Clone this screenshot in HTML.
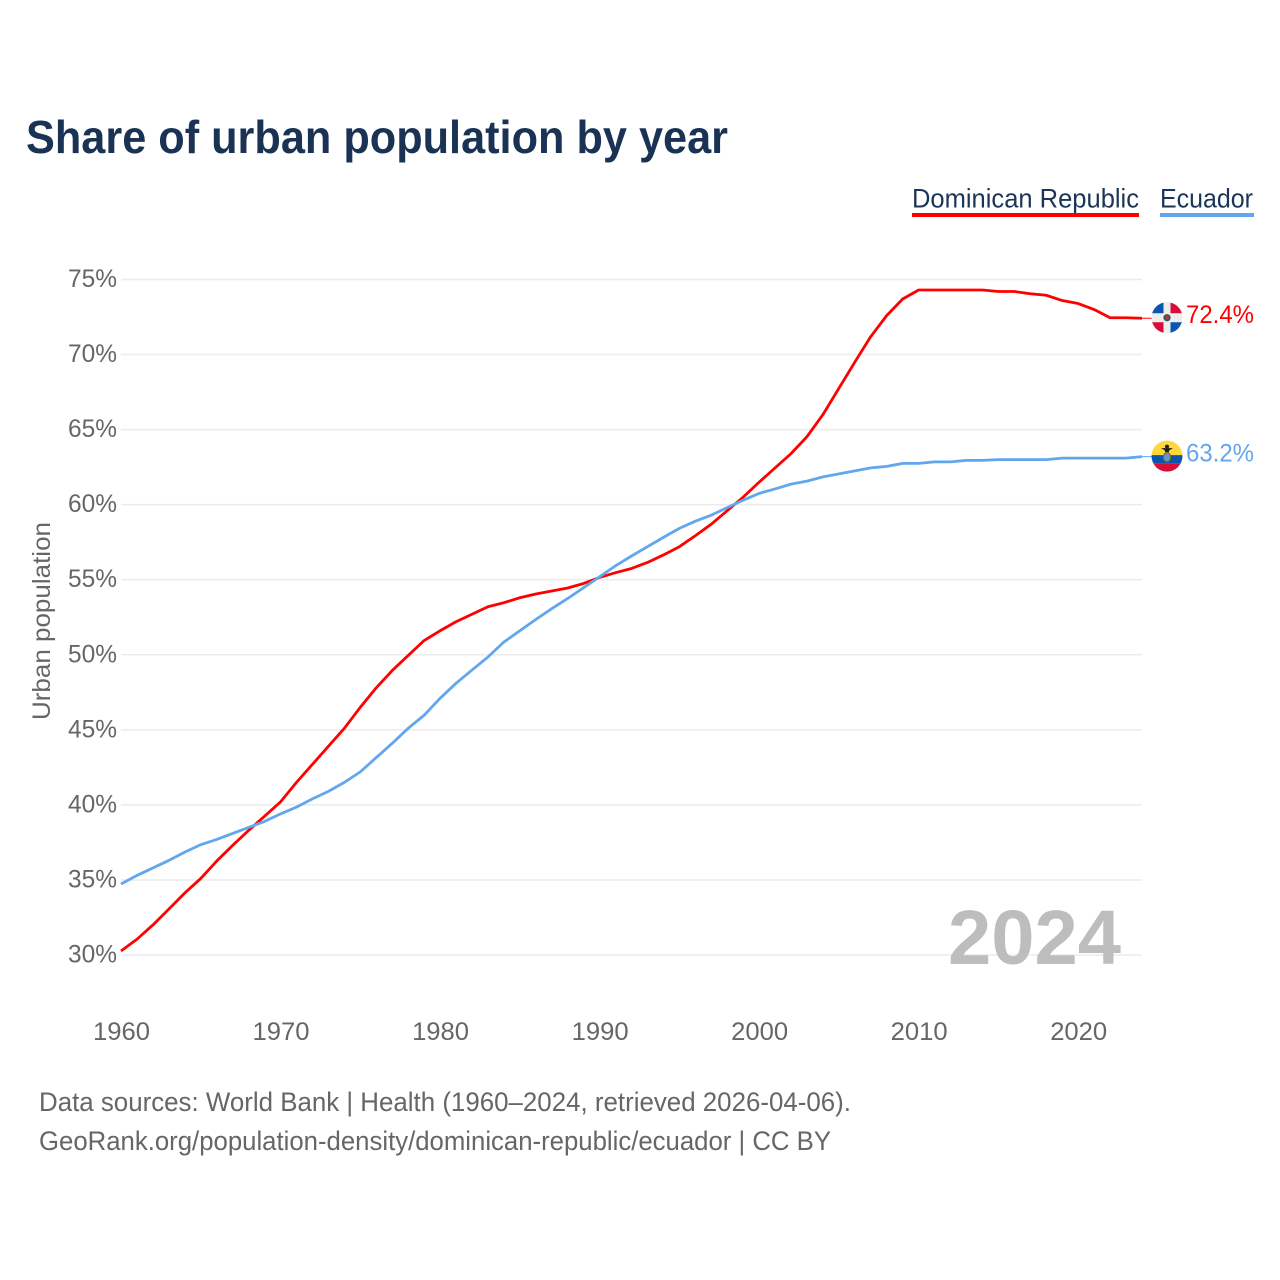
<!DOCTYPE html>
<html lang="en">
<head>
<meta charset="utf-8">
<title>Share of urban population by year</title>
<style>
html,body{margin:0;padding:0;background:#fff;}
body{width:1280px;height:1280px;overflow:hidden;}
svg{display:block;font-family:"Liberation Sans",sans-serif;}
</style>
</head>
<body>
<svg id="chart" width="1280" height="1280" viewBox="0 0 1280 1280" xmlns="http://www.w3.org/2000/svg">
  <defs>
    <clipPath id="flag-clip-dr"><circle cx="0" cy="0" r="15.5"/></clipPath>
    <clipPath id="flag-clip-ec"><circle cx="0" cy="0" r="15.5"/></clipPath>
  </defs>
  <text x="26" y="153" font-size="46" font-weight="700" fill="#1a3355" textLength="702" lengthAdjust="spacingAndGlyphs">Share of urban population by year</text>

  <g>
    <g>
      <text x="912" y="207.5" font-size="27" fill="#1c3557" textLength="227" lengthAdjust="spacingAndGlyphs">Dominican Republic</text>
      <rect x="912" y="213" width="227" height="4" fill="#ff0000"/>
    </g>
    <g>
      <text x="1160" y="207.5" font-size="27" fill="#1c3557" textLength="93" lengthAdjust="spacingAndGlyphs">Ecuador</text>
      <rect x="1160" y="213" width="94" height="4" fill="#62a6ee"/>
    </g>
  </g>

  <g id="grid"></g>
  <g id="y-ticks"></g>
  <g id="x-ticks"></g>
  <text transform="translate(50,621) rotate(-90)" text-anchor="middle" font-size="25" fill="#666666" textLength="198" lengthAdjust="spacingAndGlyphs">Urban population</text>

  <text x="948" y="964" font-size="77" font-weight="700" fill="#bdbdbd" textLength="173" lengthAdjust="spacingAndGlyphs">2024</text>

  <g id="series"></g>
  <g id="end-labels"></g>

  <g id="flag-dr-template" clip-path="url(#flag-clip-dr)">
    <rect x="-16" y="-16" width="32" height="32" fill="#eeeeee"/>
    <rect x="-16" y="-16" width="12.5" height="11.5" fill="#0a55b0"/>
    <rect x="3.5" y="-16" width="12.5" height="11.5" fill="#d80d38"/>
    <rect x="-16" y="4.5" width="12.5" height="11.5" fill="#d80d38"/>
    <rect x="3.5" y="4.5" width="12.5" height="11.5" fill="#0a55b0"/>
    <circle cx="0" cy="0" r="3.6" fill="#2b5a55"/>
    <circle cx="0" cy="0" r="1.9" fill="#c23040"/>
  </g>
  <g id="flag-ec-template" clip-path="url(#flag-clip-ec)">
    <rect x="-16" y="-16" width="32" height="16" fill="#ffd83d"/>
    <rect x="-16" y="-1" width="32" height="8" fill="#0a55b0"/>
    <rect x="-16" y="7" width="32" height="9" fill="#d80d38"/>
    <path d="M-6 -8 L6 -8 L2 -5.5 L2 -4 L-2 -4 L-2 -5.5 Z" fill="#222222"/>
    <circle cx="0" cy="-9.5" r="2" fill="#222222"/>
    <ellipse cx="0" cy="1" rx="3.6" ry="4.6" fill="#5a9ad8" stroke="#8a6a1c" stroke-width="1.2"/>
  </g>

  <text x="39" y="1111" font-size="27" fill="#666666" textLength="812" lengthAdjust="spacingAndGlyphs">Data sources: World Bank | Health (1960–2024, retrieved 2026-04-06).</text>
  <text x="39" y="1150" font-size="27" fill="#666666" textLength="792" lengthAdjust="spacingAndGlyphs">GeoRank.org/population-density/dominican-republic/ecuador | CC BY</text>
</svg>
<script>
const years = [1960,1961,1962,1963,1964,1965,1966,1967,1968,1969,
  1970,1971,1972,1973,1974,1975,1976,1977,1978,1979,
  1980,1981,1982,1983,1984,1985,1986,1987,1988,1989,
  1990,1991,1992,1993,1994,1995,1996,1997,1998,1999,
  2000,2001,2002,2003,2004,2005,2006,2007,2008,2009,
  2010,2011,2012,2013,2014,2015,2016,2017,2018,2019,
  2020,2021,2022,2023,2024];
const dominicanRepublic = [30.27,31.05,32.0,33.06,34.13,35.1,36.26,37.3,38.3,39.25,
  40.2,41.5,42.7,43.9,45.1,46.5,47.8,48.95,49.95,50.95,
  51.6,52.2,52.7,53.2,53.47,53.8,54.05,54.25,54.45,54.75,
  55.15,55.47,55.75,56.15,56.65,57.2,57.93,58.7,59.6,60.5,
  61.5,62.45,63.4,64.53,66.0,67.75,69.5,71.2,72.6,73.7,
  74.3,74.3,74.3,74.3,74.3,74.2,74.2,74.05,73.95,73.6,
  73.4,73.0,72.45,72.45,72.42];
const ecuador = [34.73,35.3,35.8,36.3,36.85,37.35,37.7,38.1,38.5,38.9,
  39.4,39.85,40.4,40.9,41.5,42.2,43.15,44.1,45.1,45.97,
  47.1,48.1,48.98,49.85,50.85,51.6,52.35,53.07,53.75,54.47,
  55.2,55.93,56.58,57.2,57.82,58.42,58.9,59.3,59.8,60.3,
  60.75,61.05,61.37,61.57,61.85,62.05,62.25,62.45,62.55,62.75,
  62.75,62.85,62.85,62.95,62.95,63.0,63.0,63.0,63.0,63.1,
  63.1,63.1,63.1,63.1,63.2];
const yTickValues = [30,35,40,45,50,55,60,65,70,75];
const xTickYears = [1960,1970,1980,1990,2000,2010,2020];

const SVG_NS = 'http://www.w3.org/2000/svg';
const plot = {left:121, right:1142, top:279.5, bottom:955};
const xMin = 1960, xMax = 2024, vMin = 30, vMax = 75;

function xScale(year){
  return plot.left + (year - xMin) / (xMax - xMin) * (plot.right - plot.left);
}
function yScale(v){
  return plot.bottom - (v - vMin) / (vMax - vMin) * (plot.bottom - plot.top);
}
function make(tag, attrs, parent, text){
  const el = document.createElementNS(SVG_NS, tag);
  Object.keys(attrs).forEach(function(k){ el.setAttribute(k, attrs[k]); });
  if (text !== undefined) el.textContent = text;
  parent.appendChild(el);
  return el;
}

const gridGroup = document.getElementById('grid');
const yTickGroup = document.getElementById('y-ticks');
const xTickGroup = document.getElementById('x-ticks');
const seriesGroup = document.getElementById('series');
const endGroup = document.getElementById('end-labels');

yTickValues.forEach(function(v){
  const line = make('line', {x1:plot.left, x2:plot.right, y1:yScale(v), y2:yScale(v), stroke:'#ececec', 'stroke-width':1.5}, gridGroup);
  
  
  const label = make('text', {x:117, y:yScale(v) + 7.5, 'text-anchor':'end', 'font-size':25, fill:'#666666', textLength:49, lengthAdjust:'spacingAndGlyphs'}, yTickGroup, v + '%');
  
  
});

xTickYears.forEach(function(y){
  const label = make('text', {x:xScale(y) + 0.5, y:1040, 'text-anchor':'middle', 'font-size':25, fill:'#666666', textLength:57, lengthAdjust:'spacingAndGlyphs'}, xTickGroup, String(y));
  
  
});

function pathFor(values){
  return values.map(function(v, i){
    return (i ? 'L' : 'M') + xScale(years[i]).toFixed(2) + ' ' + yScale(v).toFixed(2);
  }).join(' ');
}

const drLine = make('path', {d:pathFor(dominicanRepublic), fill:'none', stroke:'#ff0000', 'stroke-width':2.8, 'stroke-linejoin':'round'}, seriesGroup);



const ecuadorLine = make('path', {d:pathFor(ecuador), fill:'none', stroke:'#62a6ee', 'stroke-width':2.8, 'stroke-linejoin':'round'}, seriesGroup);



function lastOf(a){ return a[a.length - 1]; }

const drLastY = yScale(lastOf(dominicanRepublic));
const ecLastY = yScale(lastOf(ecuador));

const drLeader = make('line', {x1:plot.right, x2:1152, y1:drLastY, y2:drLastY, stroke:'#ff0000', 'stroke-width':1}, endGroup);


const ecLeader = make('line', {x1:plot.right, x2:1152, y1:ecLastY, y2:ecLastY, stroke:'#62a6ee', 'stroke-width':1}, endGroup);



const drValue = make('text', {x:1186, y:drLastY + 5, 'font-size':25, fill:'#ff0000', textLength:68, lengthAdjust:'spacingAndGlyphs'}, endGroup, lastOf(dominicanRepublic).toFixed(1) + '%');


const ecValue = make('text', {x:1186, y:ecLastY + 5, 'font-size':25, fill:'#62a6ee', textLength:68, lengthAdjust:'spacingAndGlyphs'}, endGroup, lastOf(ecuador).toFixed(1) + '%');



document.getElementById('flag-dr-template').setAttribute('transform', 'translate(1167,' + (drLastY - 0.5).toFixed(2) + ')');
document.getElementById('flag-ec-template').setAttribute('transform', 'translate(1167,' + (ecLastY - 0.5).toFixed(2) + ')');
</script>
</body>
</html>
